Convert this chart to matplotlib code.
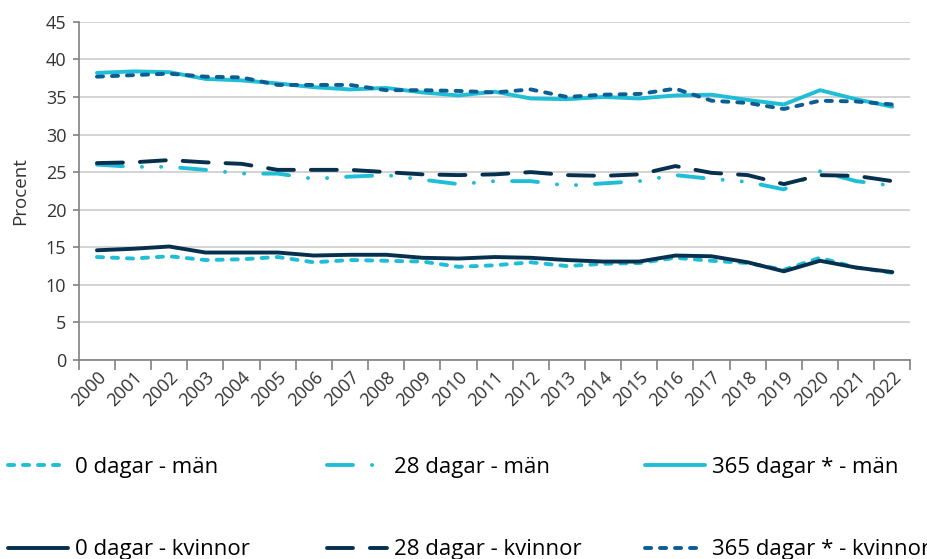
import numpy as np
import matplotlib
matplotlib.use('Agg')
import matplotlib.pyplot as plt

plt.rcParams['font.family'] = ['Open Sans', 'DejaVu Sans']
plt.rcParams['lines.scale_dashes'] = False

years = [str(y) for y in range(2000, 2023)]

man_0 = [13.7, 13.5, 13.8, 13.3, 13.4, 13.7, 13.0, 13.3, 13.2, 13.1, 12.4, 12.6,
         13.0, 12.5, 12.8, 12.9, 13.6, 13.2, 12.9, 12.0, 13.6, 12.3, 11.6]
man_28 = [26.0, 25.7, 25.7, 25.3, 24.8, 24.8, 24.1, 24.4, 24.6, 24.0, 23.4, 23.8,
          23.8, 23.2, 23.5, 23.8, 24.6, 24.1, 23.7, 22.7, 25.1, 23.8, 23.2]
man_365 = [38.2, 38.4, 38.3, 37.4, 37.2, 36.8, 36.3, 36.0, 36.2, 35.6, 35.2, 35.7,
           34.8, 34.7, 35.0, 34.8, 35.2, 35.3, 34.6, 34.0, 35.9, 34.7, 33.7]
kv_0 = [14.6, 14.8, 15.1, 14.3, 14.3, 14.3, 13.9, 14.0, 14.0, 13.6, 13.5, 13.7,
        13.6, 13.3, 13.1, 13.1, 13.9, 13.8, 13.0, 11.8, 13.2, 12.3, 11.7]
kv_28 = [26.2, 26.3, 26.6, 26.3, 26.1, 25.3, 25.3, 25.3, 25.0, 24.7, 24.6, 24.7,
         25.0, 24.6, 24.5, 24.7, 25.8, 24.9, 24.6, 23.4, 24.6, 24.5, 23.8]
kv_365 = [37.7, 37.9, 38.1, 37.7, 37.6, 36.6, 36.6, 36.6, 35.9, 35.9, 35.8, 35.6,
          36.0, 35.0, 35.3, 35.4, 36.1, 34.5, 34.2, 33.4, 34.5, 34.4, 34.0]

cyan = '#20BED6'
navy = '#06304D'
blue = '#0B5D94'

fig = plt.figure(figsize=(9.28, 5.59), dpi=100)
ax = fig.add_axes([0.085, 0.356, 0.896, 0.605])

x = np.arange(len(years))
lw = 2.8
short = (0, (4.4, 6.4))
long_dash = (0, (18.7, 12.2))
dash_dot_dot = (0, (18.7, 13.7, 0.1, 13.7, 0.1, 13.7))

l1, = ax.plot(x, man_0, color=cyan, lw=lw, ls=short, dash_capstyle='round', label='0 dagar - män')
l2, = ax.plot(x, man_28, color=cyan, lw=lw, ls=dash_dot_dot, dash_capstyle='round', label='28 dagar - män')
l3, = ax.plot(x, man_365, color=cyan, lw=lw, solid_capstyle='round', label='365 dagar * - män')
l4, = ax.plot(x, kv_0, color=navy, lw=lw, solid_capstyle='round', label='0 dagar - kvinnor')
l5, = ax.plot(x, kv_28, color=navy, lw=lw, ls=long_dash, dash_capstyle='round', label='28 dagar - kvinnor')
l6, = ax.plot(x, kv_365, color=blue, lw=lw, ls=short, dash_capstyle='round', label='365 dagar * - kvinnor')

ax.set_ylim(0, 45)
ax.set_yticks(range(0, 46, 5))
ax.set_xlim(-0.5, len(years) - 0.5)
ax.set_xticks(np.arange(-0.5, len(years), 1.0))
ax.set_xticklabels([])
ax.set_xticks(x, minor=True)
ax.set_xticklabels(years, minor=True, rotation=45, ha='right', va='top',
                   rotation_mode='anchor', fontsize=13, color='#333333')
ax.tick_params(axis='x', which='major', length=7, width=1.2, color='#808080', direction='out')
ax.tick_params(axis='x', which='minor', length=0, pad=6)
ax.tick_params(axis='y', length=4, width=1.2, color='#808080', labelsize=13,
               labelcolor='#333333', pad=5)

ax.grid(axis='y', color='#D0D0D0', lw=1.3)
ax.set_axisbelow(True)
for s in ['top', 'right']:
    ax.spines[s].set_visible(False)
for s in ['left', 'bottom']:
    ax.spines[s].set_color('#808080')
    ax.spines[s].set_linewidth(1.2)

ax.set_ylabel('Procent', fontsize=13.5, color='#333333', labelpad=12)

# one legend per column so each column sits where it does in the original
columns = [([l1, l4], 8), ([l2, l5], 327), ([l3, l6], 645)]
for handles, left in columns:
    fig.legend(handles=handles, ncol=1, loc='upper left',
               bbox_to_anchor=(left / 928, 0.182), frameon=False, fontsize=16,
               handlelength=2.7, handletextpad=0.3, borderpad=0,
               labelspacing=2.75, borderaxespad=0)

fig.savefig('out.png', dpi=100)
